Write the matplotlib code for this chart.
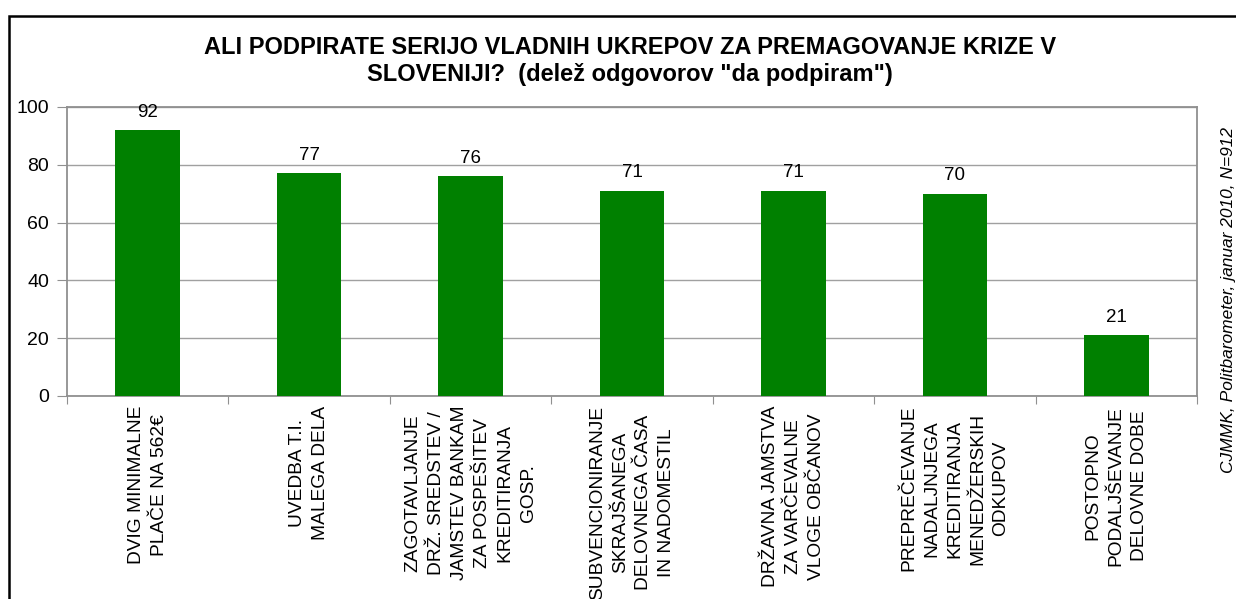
import matplotlib
matplotlib.use("Agg")
import matplotlib.pyplot as plt
from matplotlib.patches import Rectangle

categories = [
    "DVIG MINIMALNE\nPLAČE NA 562€",
    "UVEDBA T.I.\nMALEGA DELA",
    "ZAGOTAVLJANJE\nDRŽ. SREDSTEV /\nJAMSTEV BANKAM\nZA POSPEŠITEV\nKREDITIRANJA\nGOSP.",
    "SUBVENCIONIRANJE\nSKRAJŠANEGA\nDELOVNEGA ČASA\nIN NADOMESTIL",
    "DRŽAVNA JAMSTVA\nZA VARČEVALNE\nVLOGE OBČANOV",
    "PREPREČEVANJE\nNADALJNJEGA\nKREDITIRANJA\nMENEDŽERSKIH\nODKUPOV",
    "POSTOPNO\nPODALJŠEVANJE\nDELOVNE DOBE",
]
values = [92, 77, 76, 71, 71, 70, 21]
yticks = [0, 20, 40, 60, 80, 100]

plt.rcParams['font.family'] = ['Liberation Sans', 'DejaVu Sans']

W, H = 1236, 599
fig = plt.figure(figsize=(W/100, H/100), dpi=100)
ax = fig.add_axes([67/W, 1-396/H, (1197-67)/W, (396-107)/H])

x = list(range(len(values)))
ax.bar(x, values, width=0.40, color='#008000', zorder=3)
for xi, v in zip(x, values):
    ax.text(xi, v + 3.3, f"{v}", ha='center', va='bottom', fontsize=13.5)

ax.set_xlim(-0.5, len(values) - 0.5)
ax.set_ylim(0, 100)
ax.set_yticks(yticks)
ax.set_yticklabels([str(t) for t in yticks], fontsize=14)
ax.yaxis.grid(True, color='#a0a0a0', linewidth=1, zorder=0)
for s in ax.spines.values():
    s.set_color('#909090')
    s.set_linewidth(1.3)
ax.tick_params(axis='y', length=7, color='#909090', pad=6)

ax.set_xticks([i - 0.5 for i in range(len(values) + 1)])
ax.set_xticklabels([])
ax.tick_params(axis='x', length=6, color='#909090')
for xi, lab in zip(x, categories):
    ax.text(xi, -3.4, lab, rotation=90, ha='center', va='top', fontsize=13.8,
            multialignment='center', linespacing=1.46)

fig.text(630/W, 1-47/H, "ALI PODPIRATE SERIJO VLADNIH UKREPOV ZA PREMAGOVANJE KRIZE V",
         ha='center', va='center', fontsize=17, fontweight='bold')
fig.text(630/W, 1-75/H, "SLOVENIJI?  (delež odgovorov \"da podpiram\")",
         ha='center', va='center', fontsize=17, fontweight='bold')

fig.text(1229/W, 1-300/H, "CJMMK, Politbarometer, januar 2010, N=912",
         rotation=90, ha='center', va='center', fontsize=12.5, style='italic')

fig.patches.append(Rectangle((9/W, -0.1), 1.2, 1-16/H + 0.1, transform=fig.transFigure,
                             fill=False, edgecolor='black', linewidth=1.8))

fig.savefig("out.png", dpi=100)
